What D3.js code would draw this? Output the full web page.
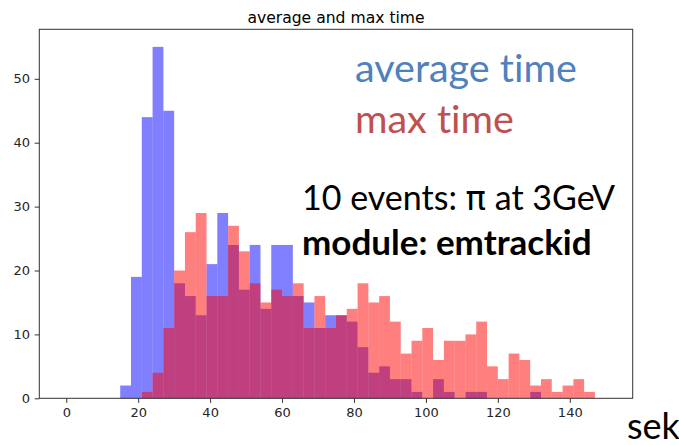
<!DOCTYPE html>
<html>
<head>
<meta charset="utf-8">
<script src="https://cdn.jsdelivr.net/npm/d3@7"></script>
<style>
  html, body { margin: 0; padding: 0; background: #fff; }
  svg { display: block; }
  text { font-variant-ligatures: none; }
</style>
</head>
<body>
<svg id="chart" width="679" height="445"></svg>
<script>
// bin left edges (50 bins of width 3 over 0..150)
const binStarts = d3.range(0, 150, 3);
const binWidth = 3;
// counts per bin: average time (blue)
const avgCounts = [0,0,0,0,0, 2,19,44,55,45, 18,16,13,21,29, 24,17,24,14,24,
                   24,16,15,11,13, 13,12,8,4,5, 3,3,1,0,3, 1,0,1,1,0,
                   0,0,0,1,0, 0,0,0,0,0];
// counts per bin: max time (red)
const maxCounts = [0,0,0,0,0, 0,0,1,4,11, 20,26,29,16,16, 27,23,18,15,17,
                   16,18,11,16,11, 13,14,18,15,16, 12,7,9,11,6, 9,9,10,12,5,
                   3,7,6,2,3, 1,2,3,1,0];
const xTicks = [0, 20, 40, 60, 80, 100, 120, 140];
const yTicks = [0, 10, 20, 30, 40, 50];
const titleText = "average and max time";

const svg = d3.select("#chart");
const L = 39.3, R = 632.7, T = 29.3, B = 398.3;
const x = d3.scaleLinear().domain([-7.5, 157.5]).range([L, R]);
const y = d3.scaleLinear().domain([0, 57.75]).range([B, T]);

function drawHist(counts, color) {
  svg.append("g").selectAll("rect")
    .data(binStarts.map((s, i) => ({s, v: counts[i]})).filter(d => d.v > 0))
    .join("rect")
    .attr("x", d => x(d.s))
    .attr("width", d => x(d.s + binWidth) - x(d.s))
    .attr("y", d => y(d.v))
    .attr("height", d => y(0) - y(d.v))
    .attr("fill", color)
    .attr("fill-opacity", 0.5);
}
drawHist(avgCounts, "#0000ff");
drawHist(maxCounts, "#ff0000");

// frame
svg.append("rect").attr("x", L).attr("y", T).attr("width", R - L).attr("height", B - T)
  .attr("fill", "none").attr("stroke", "#333").attr("stroke-width", 1);

const xAxis = d3.axisBottom(x).tickValues(xTicks).tickSize(4.6).tickPadding(4.6).tickSizeOuter(0);
const yAxis = d3.axisLeft(y).tickValues(yTicks).tickSize(4.6).tickPadding(4.6).tickSizeOuter(0);
const gx = svg.append("g").attr("transform", `translate(0,${B})`).call(xAxis);
const gy = svg.append("g").attr("transform", `translate(${L},0)`).call(yAxis);
[gx, gy].forEach(g => {
  g.select(".domain").remove();
  g.selectAll(".tick line").attr("stroke", "#333");
  g.selectAll(".tick text").attr("fill", "#262626")
    .style("font-family", "DejaVu Sans").style("font-size", "13px");
});

svg.append("text").attr("x", (L + R) / 2).attr("y", 22.7)
  .attr("text-anchor", "middle").style("font-family", "DejaVu Sans")
  .style("font-size", "15.6px").attr("fill", "#000").text(titleText);

const big = "Lato, 'Open Sans', sans-serif";
svg.append("text").attr("x", 355).attr("y", 82).style("font-family", big)
  .style("font-size", "39.5px").attr("fill", "#4f81bd").text("average time");
svg.append("text").attr("x", 355).attr("y", 133).style("font-family", big)
  .style("font-size", "39.5px").attr("fill", "#c0504d").text("max time");
const t3 = svg.append("text").attr("x", 302).attr("y", 210).style("font-family", big)
  .style("font-size", "34px").attr("fill", "#000");
t3.append("tspan").text("10 events: ");
t3.append("tspan").style("font-family", "'DejaVu Sans', sans-serif").text("π");
t3.append("tspan").text(" at 3GeV");
svg.append("text").attr("x", 302).attr("y", 255).style("font-family", big)
  .style("font-size", "35px").style("font-weight", "bold").attr("fill", "#000").text("module: emtrackid");
svg.append("text").attr("x", 627).attr("y", 438.5).style("font-family", big)
  .style("font-size", "36px").attr("fill", "#000").text("sek");
</script>
</body>
</html>
